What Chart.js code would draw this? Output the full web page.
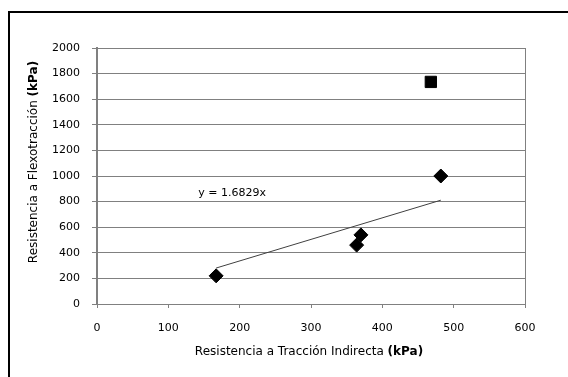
<!DOCTYPE html>
<html>
<head>
<meta charset="utf-8">
<script src="https://cdn.jsdelivr.net/npm/chart.js@4.4.1/dist/chart.umd.min.js"></script>
<style>
  html, body { margin: 0; padding: 0; background: #fff; overflow: hidden; }
  #wrap { position: absolute; left: 0; top: 0; width: 568px; height: 377px; }
</style>
</head>
<body>
<div id="wrap"><canvas id="chart" width="568" height="377"></canvas></div>
<script>
// values (kPa)
const diamondX = [167, 364, 370, 482];
const diamondY = [220, 460, 540, 1000];
const squareX = [468];
const squareY = [1735];
const trendX = [167, 482];
const trendY = [281, 811];
const trendLabel = 'y = 1.6829x';
const xTitle = ['Resistencia a Tracción Indirecta ', '(kPa)'];
const yTitle = ['Resistencia a Flexotracción ', '(kPa)'];

const toPoints = (xs, ys) => xs.map((x, i) => ({ x: x, y: ys[i] }));
const FONT = '"DejaVu Sans", sans-serif';

const extras = {
    id: 'extras',
    beforeDraw(chart) {
        // outer frame, only left and top edges are inside the picture
        const ctx = chart.ctx;
        ctx.save();
        ctx.strokeStyle = '#000';
        ctx.lineWidth = 2;
        ctx.beginPath();
        ctx.moveTo(9, chart.height + 5);
        ctx.lineTo(9, 12);
        ctx.lineTo(chart.width + 5, 12);
        ctx.stroke();
        ctx.restore();
    },
    afterDraw(chart) {
        const ctx = chart.ctx;
        const a = chart.chartArea;
        const sx = chart.scales.x, sy = chart.scales.y;
        ctx.save();
        // right side of the plot box
        ctx.strokeStyle = '#808080';
        ctx.lineWidth = 1;
        ctx.beginPath();
        ctx.moveTo(a.right + 0.5, a.top);
        ctx.lineTo(a.right + 0.5, a.bottom);
        ctx.stroke();

        // trend equation
        ctx.fillStyle = '#000';
        ctx.font = '11px ' + FONT;
        ctx.textAlign = 'left';
        ctx.textBaseline = 'middle';
        ctx.fillText(trendLabel, sx.getPixelForValue(142), sy.getPixelForValue(865));

        // axis titles with bold unit
        const drawMixed = (parts, cx, cy) => {
            ctx.font = '12px ' + FONT;
            const w0 = ctx.measureText(parts[0]).width;
            ctx.font = 'bold 12px ' + FONT;
            const w1 = ctx.measureText(parts[1]).width;
            const x0 = cx - (w0 + w1) / 2;
            ctx.textAlign = 'left';
            ctx.textBaseline = 'middle';
            ctx.font = '12px ' + FONT;
            ctx.fillText(parts[0], x0, cy);
            ctx.font = 'bold 12px ' + FONT;
            ctx.fillText(parts[1], x0 + w0, cy);
        };
        drawMixed(xTitle, 309, 352);
        ctx.translate(34, 162);
        ctx.rotate(-Math.PI / 2);
        drawMixed(yTitle, 0, 0);
        ctx.restore();
    }
};

const ctx = document.getElementById('chart').getContext('2d');
const chart = new Chart(ctx, {
    type: 'scatter',
    data: {
        datasets: [
            {
                label: 'trend',
                type: 'line',
                data: toPoints(trendX, trendY),
                borderColor: '#404040',
                borderWidth: 1,
                pointRadius: 0,
                fill: false
            },
            {
                label: 'ensayos',
                data: toPoints(diamondX, diamondY),
                pointStyle: 'rectRot',
                pointRadius: 7,
                backgroundColor: '#000',
                borderColor: '#000'
            },
            {
                label: 'otro',
                data: toPoints(squareX, squareY),
                pointStyle: 'rect',
                pointRadius: 8,
                backgroundColor: '#000',
                borderColor: '#000'
            }
        ]
    },
    options: {
        responsive: false,
        animation: false,
        layout: { padding: { top: 48, right: 43, left: 0, bottom: 0 } },
        plugins: {
            legend: { display: false },
            tooltip: { enabled: false }
        },
        scales: {
            x: {
                type: 'linear',
                min: 0,
                max: 600,
                afterFit: (s) => { s.height = 73; },
                ticks: { stepSize: 100, color: '#000', padding: 14, font: { family: FONT, size: 11 }, callback: (v) => String(v) },
                grid: { drawOnChartArea: false, tickLength: 4, color: '#808080' },
                border: { color: '#808080' }
            },
            y: {
                min: 0,
                max: 2000,
                afterFit: (s) => { s.width = 97; },
                ticks: { stepSize: 200, color: '#000', padding: 12, font: { family: FONT, size: 11 }, callback: (v) => String(v) },
                grid: { color: '#808080', tickLength: 5 },
                border: { color: '#808080', width: 2 }
            }
        }
    },
    plugins: [extras]
});
</script>
</body>
</html>
